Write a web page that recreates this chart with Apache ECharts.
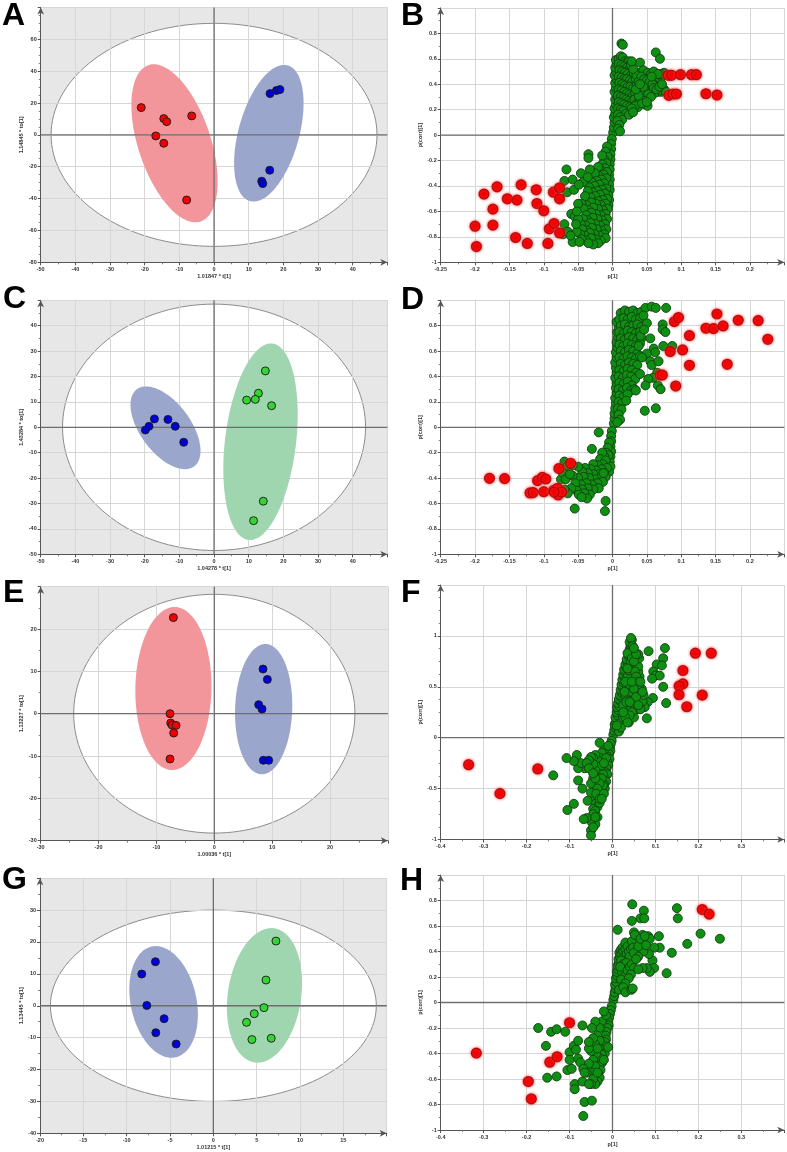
<!DOCTYPE html>
<html><head><meta charset="utf-8">
<script src="https://cdn.jsdelivr.net/npm/echarts@6/dist/echarts.min.js"></script>
<style>html,body{margin:0;padding:0;background:#fff}#c{width:787px;height:1152px}</style>
</head><body><div id="c"></div><script>
const FONT = '"Liberation Sans", Arial, sans-serif';

// ---------- Panel A (score plot) ----------
const A_red  = [[-21.0,17.1],[-14.5,10.2],[-13.65,8.3],[-6.44,11.9],[-16.8,-0.7],[-14.5,-5.3],[-7.9,-40.9]];
const A_blue = [[16.15,25.9],[18.0,27.8],[19.0,28.4],[16.06,-22.2],[13.75,-29.1],[14.04,-30.6]];
const A_ellRed  = [-11.4,-5.3,-6.0,49.6,10.9,0];
const A_ellBlue = [15.8,1.0,4.4,42.9,9.0,0];
const A_T2 = [47,70];
// ---------- Panel C (score plot) ----------
const C_blue  = [[-19.8,-1.07],[-18.75,0.4],[-17.2,3.3],[-13.3,3.1],[-11.2,0.4],[-8.75,-5.9]];
const C_green = [[14.8,22.2],[12.8,13.4],[9.4,10.7],[11.9,11.0],[16.6,8.5],[14.2,-29.1],[11.4,-36.75]];
const C_ellBlue  = [-14.0,-0.2,-5.6,16.3,8.4,0];
const C_ellGreen = [13.4,-5.7,3.0,38.7,10.3,0];
const C_T2 = [43.7,48.5];
// ---------- Panel E (score plot) ----------
const E_red  = [[-7.07,22.7],[-7.65,0.0],[-7.53,-2.2],[-7.3,-2.68],[-6.61,-2.76],[-7.02,-4.57],[-7.65,-10.7]];
const E_blue = [[8.42,10.55],[9.17,8.1],[7.67,2.13],[8.25,1.1],[8.48,-11.0],[9.4,-11.0]];
const E_ellRed  = [-7.07,5.95,0.2,19.25,6.57,0];
const E_ellBlue = [8.53,1.07,0.3,15.4,4.94,0];
const E_T2 = [24.3,28.2];
// ---------- Panel G (score plot) ----------
const G_blue  = [[-6.68,13.8],[-8.26,9.94],[-7.68,0.1],[-5.68,-4.06],[-6.64,-8.45],[-4.29,-12.0]];
const G_green = [[7.22,20.3],[6.07,8.06],[5.84,-0.6],[4.72,-2.5],[3.83,-5.2],[4.45,-10.6],[6.68,-10.2]];
const G_ellBlue  = [-5.74,1.2,-0.9,17.5,3.85,0];
const G_ellGreen = [5.9,3.25,0.8,21.1,4.26,0];
const G_T2 = [18.8,30.0];

// ---------- Panel B (loading plot) ----------
const B_red = [[-0.200,-0.716],[-0.198,-0.876],[-0.187,-0.464],[-0.174,-0.582],[-0.174,-0.708],[-0.168,-0.407],[-0.153,-0.501],[-0.141,-0.805],[-0.139,-0.511],[-0.133,-0.391],[-0.124,-0.852],[-0.111,-0.430],[-0.110,-0.538],[-0.100,-0.595],[-0.094,-0.852],[-0.092,-0.737],[-0.086,-0.449],[-0.085,-0.695],[-0.077,-0.414],[-0.077,-0.501],[-0.077,-0.769],[0.081,0.470],[0.086,0.470],[0.099,0.475],[0.115,0.475],[0.122,0.475],[0.082,0.312],[0.088,0.323],[0.093,0.323],[0.136,0.325],[0.152,0.315]];
const B_green = [
[0.001,0.02],[0.002,0.06],[0.003,0.1],[0.002,0.14],[0.004,0.17],[0.003,0.21],[0.005,0.24],[0.004,0.28],[0.006,0.31],[0.003,0.34],[0.005,0.37],[0.004,0.41],[0.006,0.44],[0.003,0.47],[0.005,0.5],[0.004,0.53],[0.006,0.56],[0.005,0.59],
[0.009,0.6],[0.012,0.62],[0.015,0.61],[0.018,0.58],[0.021,0.57],[0.024,0.58],
[0.009,0.56],[0.013,0.55],[0.017,0.54],[0.021,0.53],[0.025,0.52],
[0.01,0.51],[0.014,0.5],[0.018,0.49],[0.022,0.48],[0.027,0.47],[0.031,0.48],
[0.009,0.46],[0.013,0.45],[0.017,0.44],[0.021,0.44],[0.025,0.43],[0.029,0.42],[0.034,0.44],
[0.01,0.41],[0.014,0.4],[0.018,0.39],[0.022,0.38],[0.026,0.38],[0.03,0.37],[0.035,0.39],[0.038,0.36],
[0.009,0.36],[0.013,0.35],[0.017,0.34],[0.021,0.33],[0.025,0.32],[0.029,0.31],[0.033,0.33],
[0.008,0.31],[0.012,0.3],[0.016,0.29],[0.02,0.28],[0.024,0.27],[0.028,0.26],[0.032,0.28],[0.036,0.25],
[0.009,0.26],[0.013,0.25],[0.017,0.24],[0.021,0.23],[0.025,0.22],
[0.008,0.21],[0.012,0.2],[0.016,0.19],[0.02,0.17],
[0.008,0.16],[0.011,0.14],[0.014,0.12],[0.007,0.11],[0.01,0.08],[0.008,0.05],[0.011,0.03],
[0.04,0.57],[0.04,0.49],[0.045,0.51],[0.048,0.46],[0.051,0.49],[0.053,0.45],[0.056,0.48],[0.059,0.44],[0.062,0.47],[0.064,0.41],[0.066,0.45],[0.069,0.44],[0.072,0.46],[0.075,0.49],[0.075,0.36],[0.071,0.34],[0.066,0.34],[0.061,0.33],[0.057,0.35],[0.053,0.38],[0.049,0.4],[0.044,0.42],[0.042,0.34],[0.045,0.3],[0.048,0.24],[0.051,0.23],[0.04,0.28],[0.037,0.22],[0.041,0.31],[0.078,0.34],[0.063,0.65],[0.069,0.6],[0.013,0.72],[0.015,0.71],[0.062,0.39],[0.055,0.41],[0.047,0.35],[0.06,0.5],[0.033,0.23],[0.028,0.21],[0.024,0.16],[0.03,0.18],
[0.035,0.47],[0.038,0.42],[0.042,0.46],[0.046,0.44],[0.05,0.43],[0.054,0.42],[0.058,0.4],[0.06,0.37],[0.064,0.36],[0.068,0.38],[0.072,0.4],[0.07,0.48],[0.066,0.48],[0.057,0.46],[0.052,0.32],[0.056,0.3],[0.046,0.27],[0.043,0.25],[0.05,0.26],[0.038,0.31],[0.034,0.36],[0.045,0.38],[0.04,0.4],[0.027,0.55],[0.03,0.52],[0.028,0.58],
[-0.001,-0.03],[-0.002,-0.07],[-0.002,-0.11],[-0.003,-0.15],[-0.003,-0.19],[-0.004,-0.23],[-0.004,-0.27],[-0.005,-0.31],[-0.004,-0.35],[-0.005,-0.39],[-0.004,-0.43],[-0.006,-0.47],[-0.005,-0.51],[-0.006,-0.55],
[-0.008,-0.09],[-0.01,-0.13],[-0.007,-0.17],[-0.012,-0.19],[-0.009,-0.22],[-0.015,-0.23],[-0.011,-0.26],[-0.018,-0.27],[-0.008,-0.29],[-0.021,-0.25],[-0.015,-0.16],
[-0.013,-0.31],[-0.02,-0.32],[-0.026,-0.3],[-0.009,-0.34],[-0.016,-0.35],[-0.023,-0.36],[-0.03,-0.37],[-0.012,-0.38],[-0.019,-0.39],[-0.026,-0.4],[-0.034,-0.41],[-0.009,-0.42],[-0.015,-0.43],[-0.022,-0.44],[-0.029,-0.45],[-0.036,-0.44],[-0.011,-0.46],[-0.018,-0.47],[-0.025,-0.48],[-0.032,-0.49],[-0.04,-0.48],[-0.008,-0.5],[-0.014,-0.51],[-0.021,-0.52],
[-0.01,-0.54],[-0.017,-0.55],[-0.024,-0.54],[-0.031,-0.53],[-0.038,-0.55],[-0.045,-0.54],
[-0.007,-0.58],[-0.014,-0.59],[-0.021,-0.58],[-0.028,-0.57],[-0.035,-0.59],[-0.042,-0.58],
[-0.01,-0.62],[-0.017,-0.63],[-0.024,-0.62],[-0.031,-0.61],[-0.038,-0.63],
[-0.008,-0.66],[-0.015,-0.67],[-0.022,-0.66],[-0.029,-0.65],[-0.036,-0.67],[-0.043,-0.66],
[-0.011,-0.7],[-0.018,-0.71],[-0.025,-0.7],[-0.032,-0.69],[-0.039,-0.71],[-0.046,-0.7],
[-0.009,-0.74],[-0.016,-0.75],[-0.023,-0.74],[-0.03,-0.73],[-0.037,-0.75],[-0.044,-0.74],
[-0.012,-0.78],[-0.019,-0.79],[-0.026,-0.78],[-0.033,-0.77],[-0.04,-0.79],[-0.047,-0.78],
[-0.01,-0.81],[-0.017,-0.83],[-0.024,-0.82],[-0.031,-0.81],[-0.038,-0.83],[-0.045,-0.82],
[-0.021,-0.85],[-0.028,-0.86],[-0.035,-0.85],
[-0.067,-0.27],[-0.07,-0.36],[-0.066,-0.45],[-0.058,-0.35],[-0.056,-0.43],[-0.046,-0.3],[-0.043,-0.37],[-0.05,-0.54],[-0.06,-0.62],[-0.055,-0.64],[-0.07,-0.7],[-0.072,-0.78],[-0.065,-0.76],[-0.058,-0.84],[-0.052,-0.76],[-0.05,-0.66],[-0.052,-0.6],[-0.061,-0.79],[-0.033,-0.27],[-0.036,-0.33],[-0.049,-0.39],[-0.035,-0.15],[-0.035,-0.18],[-0.053,-0.7],[-0.048,-0.84]];

// ---------- Panel D (loading plot) ----------
const D_red = [[-0.179,-0.402],[-0.157,-0.404],[-0.120,-0.517],[-0.1155,-0.514],[-0.109,-0.42],[-0.102,-0.394],[-0.097,-0.407],[-0.100,-0.507],[-0.0855,-0.496],[-0.079,-0.533],[-0.080,-0.48],[-0.074,-0.509],[-0.085,-0.51],[-0.078,-0.325],[-0.061,-0.283],[0.0696,0.412],[0.0725,0.412],[0.090,0.832],[0.096,0.864],[0.152,0.892],[0.136,0.78],[0.147,0.777],[0.161,0.798],[0.183,0.843],[0.212,0.840],[0.226,0.693],[0.112,0.722],[0.102,0.609],[0.084,0.596],[0.112,0.488],[0.167,0.496],[0.092,0.325]];
const D_green = [
[0.002,0.03],[0.003,0.07],[0.003,0.11],[0.004,0.15],[0.005,0.19],[0.004,0.23],[0.006,0.27],[0.005,0.31],[0.006,0.35],[0.004,0.39],[0.006,0.43],[0.005,0.47],[0.004,0.51],[0.006,0.55],[0.005,0.59],[0.007,0.63],[0.006,0.67],[0.008,0.71],[0.007,0.75],[0.009,0.79],[0.006,0.83],
[0.012,0.9],[0.018,0.92],[0.024,0.91],[0.03,0.92],[0.036,0.9],[0.042,0.91],
[0.01,0.85],[0.016,0.86],[0.022,0.85],[0.028,0.87],[0.034,0.85],[0.04,0.86],
[0.012,0.8],[0.018,0.81],[0.024,0.79],[0.03,0.8],[0.036,0.81],[0.042,0.79],
[0.01,0.75],[0.016,0.74],[0.022,0.76],[0.028,0.75],[0.034,0.74],[0.04,0.75],
[0.012,0.7],[0.018,0.69],[0.024,0.71],[0.03,0.7],[0.036,0.69],[0.042,0.7],
[0.01,0.65],[0.016,0.64],[0.022,0.66],[0.028,0.65],[0.034,0.64],[0.04,0.66],
[0.012,0.6],[0.018,0.59],[0.024,0.61],[0.03,0.6],[0.036,0.58],
[0.01,0.55],[0.016,0.54],[0.022,0.56],[0.028,0.55],[0.034,0.54],[0.04,0.56],
[0.012,0.5],[0.018,0.49],[0.024,0.51],[0.03,0.5],[0.036,0.49],
[0.01,0.45],[0.016,0.44],[0.022,0.46],[0.028,0.45],[0.034,0.43],
[0.009,0.4],[0.015,0.39],[0.021,0.41],[0.027,0.4],[0.033,0.38],
[0.01,0.35],[0.016,0.34],[0.022,0.36],[0.028,0.33],
[0.009,0.3],[0.015,0.29],[0.021,0.31],[0.027,0.29],[0.032,0.3],
[0.01,0.25],[0.016,0.24],[0.022,0.26],
[0.009,0.2],[0.014,0.19],[0.02,0.21],
[0.008,0.15],[0.013,0.14],[0.009,0.1],[0.011,0.06],[0.007,0.04],
[0.048,0.94],[0.057,0.95],[0.063,0.94],[0.078,0.94],[0.05,0.82],[0.055,0.7],[0.073,0.81],[0.073,0.77],[0.077,0.75],[0.074,0.64],[0.087,0.64],[0.06,0.62],[0.062,0.59],[0.05,0.58],[0.055,0.52],[0.057,0.49],[0.067,0.52],[0.065,0.43],[0.059,0.39],[0.052,0.38],[0.048,0.33],[0.066,0.33],[0.07,0.3],[0.047,0.13],[0.063,0.15],[0.034,0.29],[0.04,0.42],[0.043,0.55],[0.038,0.64],[0.041,0.72],[0.045,0.88],[0.046,0.77],
[-0.001,-0.03],[-0.002,-0.07],[-0.002,-0.11],[-0.003,-0.15],[-0.002,-0.19],[-0.003,-0.23],[-0.004,-0.27],[-0.003,-0.31],[-0.005,-0.35],
[-0.005,-0.12],[-0.007,-0.16],[-0.009,-0.2],[-0.006,-0.22],[-0.012,-0.23],[-0.015,-0.2],[-0.018,-0.25],[-0.01,-0.26],[-0.014,-0.29],[-0.021,-0.3],[-0.028,-0.29],[-0.008,-0.32],[-0.016,-0.33],[-0.024,-0.34],[-0.032,-0.33],[-0.04,-0.32],[-0.012,-0.36],[-0.02,-0.37],[-0.028,-0.37],[-0.036,-0.36],[-0.044,-0.35],[-0.05,-0.31],[-0.01,-0.39],[-0.018,-0.4],[-0.026,-0.41],[-0.034,-0.4],[-0.042,-0.39],[-0.05,-0.4],[-0.058,-0.38],[-0.014,-0.43],[-0.022,-0.44],[-0.03,-0.45],[-0.038,-0.44],[-0.046,-0.45],[-0.054,-0.44],[-0.02,-0.48],[-0.028,-0.49],[-0.036,-0.48],[-0.044,-0.49],[-0.052,-0.5],[-0.06,-0.48],[-0.033,-0.53],[-0.041,-0.52],[-0.049,-0.53],[-0.065,-0.52],[-0.037,-0.56],[-0.045,-0.55],
[-0.02,-0.04],[-0.03,-0.17],[-0.055,-0.64],[-0.01,-0.58],[-0.011,-0.66],[-0.07,-0.27],[-0.075,-0.41],[-0.072,-0.36],[-0.068,-0.41],[-0.062,-0.37],[-0.07,-0.49],[-0.065,-0.3],[-0.058,-0.3],[-0.013,-0.36]];

// ---------- Panel F (loading plot) ----------
const F_red = [[-0.335,-0.265],[-0.262,-0.549],[-0.174,-0.307],[0.193,0.830],[0.230,0.830],[0.164,0.660],[0.164,0.529],[0.155,0.507],[0.155,0.422],[0.209,0.418],[0.173,0.304]];
const F_green = [
[0.002,0.03],[0.004,0.07],[0.006,0.1],[0.005,0.13],[0.008,0.15],[0.01,0.18],[0.007,0.2],[0.012,0.22],[0.01,0.25],[0.014,0.27],[0.011,0.3],[0.016,0.31],[0.013,0.34],[0.018,0.36],[0.015,0.38],[0.02,0.4],[0.017,0.42],[0.022,0.44],[0.019,0.47],[0.024,0.49],[0.021,0.52],[0.026,0.54],[0.023,0.57],[0.028,0.59],[0.025,0.62],[0.03,0.64],[0.027,0.67],[0.032,0.69],[0.03,0.72],[0.035,0.74],[0.033,0.77],[0.038,0.8],[0.036,0.83],[0.04,0.87],[0.042,0.91],[0.04,0.94],[0.045,0.96],[0.043,0.98],[0.047,0.9],[0.05,0.83],
[0.02,0.15],[0.025,0.2],[0.03,0.25],[0.028,0.32],[0.033,0.3],[0.035,0.38],[0.03,0.42],[0.038,0.45],[0.034,0.5],[0.04,0.52],[0.037,0.57],[0.042,0.6],[0.045,0.64],[0.04,0.68],[0.048,0.7],[0.05,0.55],[0.045,0.45],[0.048,0.35],[0.042,0.3],[0.038,0.15],[0.05,0.2],[0.052,0.29],[0.058,0.44],[0.055,0.34],[0.06,0.28],[0.065,0.38],[0.068,0.48],[0.063,0.6],[0.06,0.65],[0.055,0.72],[0.06,0.7],[0.062,0.78],[0.06,0.82],[0.045,0.83],[0.035,0.83],[0.084,0.85],[0.122,0.88],[0.118,0.78],[0.103,0.72],[0.115,0.71],[0.095,0.65],[0.1,0.61],[0.11,0.61],[0.092,0.58],[0.118,0.5],[0.125,0.34],[0.094,0.39],[0.082,0.35],[0.075,0.3],[0.065,0.28],[0.08,0.19],[0.07,0.36],[0.072,0.42],[0.015,0.06],[0.02,0.1],[0.01,0.12],[0.025,0.32],
[0.035,0.6],[0.038,0.66],[0.042,0.75],[0.045,0.78],[0.05,0.75],[0.052,0.65],[0.055,0.6],[0.058,0.55],[0.062,0.52],[0.05,0.48],[0.055,0.4],[0.06,0.32],[0.045,0.25],[0.04,0.22],[0.03,0.2],[0.035,0.15],[0.025,0.25],[0.032,0.35],[0.028,0.45],[0.03,0.55],[0.035,0.68],[0.04,0.35],[0.045,0.55],[0.065,0.55],[0.07,0.45],[0.055,0.82],[0.05,0.88],
[-0.002,-0.03],[-0.004,-0.06],[-0.006,-0.1],[-0.005,-0.13],[-0.008,-0.16],[-0.01,-0.19],[-0.007,-0.21],[-0.012,-0.24],[-0.01,-0.27],[-0.014,-0.3],[-0.016,-0.34],[-0.012,-0.36],[-0.018,-0.4],[-0.015,-0.43],[-0.02,-0.46],[-0.018,-0.5],
[-0.02,-0.12],[-0.025,-0.15],[-0.03,-0.05],[-0.028,-0.2],[-0.035,-0.22],[-0.04,-0.17],[-0.045,-0.2],[-0.035,-0.3],[-0.03,-0.33],[-0.025,-0.27],[-0.04,-0.32],[-0.045,-0.26],[-0.05,-0.19],[-0.055,-0.22],[-0.022,-0.36],[-0.03,-0.4],[-0.035,-0.45],[-0.028,-0.48],[-0.04,-0.46],[-0.045,-0.4],[-0.025,-0.52],[-0.022,-0.47],[-0.03,-0.55],[-0.038,-0.6],[-0.045,-0.6],[-0.05,-0.54],[-0.04,-0.65],[-0.035,-0.68],[-0.03,-0.64],[-0.045,-0.7],[-0.04,-0.72],[-0.035,-0.78],[-0.045,-0.75],[-0.04,-0.85],[-0.05,-0.82],[-0.06,-0.79],[-0.067,-0.8],[-0.05,-0.91],[-0.05,-0.96],[-0.07,-0.5],[-0.08,-0.42],[-0.065,-0.3],[-0.08,-0.3],[-0.073,-0.25],[-0.083,-0.17],[-0.09,-0.23],[-0.107,-0.2],[-0.138,-0.37],[-0.09,-0.65],[-0.105,-0.71],[-0.06,-0.25],[-0.055,-0.3],[-0.05,-0.45],[-0.058,-0.62],
[-0.01,-0.08],[-0.015,-0.2],[-0.02,-0.25],[-0.025,-0.4],[-0.03,-0.45],[-0.035,-0.5],[-0.038,-0.55],[-0.03,-0.6],[-0.04,-0.4],[-0.045,-0.35],[-0.02,-0.55],[-0.025,-0.6],[-0.04,-0.78],[-0.045,-0.88]];

// ---------- Panel H (loading plot) ----------
const H_red = [[-0.317,-0.397],[-0.196,-0.620],[-0.189,-0.756],[-0.146,-0.468],[-0.129,-0.426],[-0.100,-0.159],[0.209,0.729],[0.225,0.693]];
const H_green = [
[0.002,0.02],[0.004,0.05],[0.005,0.08],[0.007,0.11],[0.006,0.14],[0.009,0.16],[0.008,0.19],[0.011,0.21],[0.01,0.24],[0.013,0.26],[0.012,0.29],[0.015,0.31],[0.014,0.34],[0.017,0.36],[0.016,0.39],[0.019,0.41],[0.021,0.38],[0.023,0.43],[0.025,0.4],[0.027,0.36],[0.03,0.42],[0.03,0.47],[0.035,0.44],[0.033,0.38],[0.038,0.4],[0.036,0.34],[0.04,0.36],[0.043,0.42],[0.045,0.48],[0.048,0.43],[0.05,0.39],[0.02,0.33],[0.025,0.3],[0.028,0.27],[0.032,0.31],[0.022,0.24],[0.018,0.28],[0.027,0.2],[0.02,0.18],[0.035,0.25],[0.04,0.28],[0.045,0.3],[0.05,0.27],[0.043,0.22],[0.038,0.19],[0.03,0.15],[0.015,0.1],[0.025,0.12],[0.03,0.08],
[0.046,0.77],[0.073,0.72],[0.065,0.66],[0.074,0.66],[0.045,0.64],[0.15,0.74],[0.152,0.66],[0.205,0.54],[0.25,0.5],[0.174,0.46],[0.138,0.39],[0.126,0.23],[0.108,0.52],[0.11,0.43],[0.097,0.43],[0.093,0.33],[0.097,0.27],[0.087,0.24],[0.085,0.38],[0.083,0.52],[0.087,0.5],[0.07,0.53],[0.05,0.55],[0.052,0.53],[0.012,0.57],[0.07,0.47],[0.072,0.4],[0.06,0.36],[0.044,0.1],[0.047,0.11],[0.06,0.44],[0.065,0.5],[0.078,0.45],[0.08,0.27],[0.07,0.27],[0.055,0.34],[0.06,0.26],[0.075,0.52],
[-0.002,-0.03],[-0.004,-0.06],[-0.006,-0.09],[-0.008,-0.12],[-0.01,-0.15],[-0.009,-0.18],[-0.012,-0.2],[-0.014,-0.23],[-0.016,-0.26],[-0.015,-0.29],[-0.018,-0.31],[-0.02,-0.34],[-0.022,-0.37],[-0.018,-0.4],[-0.025,-0.41],[-0.028,-0.44],[-0.024,-0.47],[-0.03,-0.5],[-0.028,-0.53],[-0.033,-0.56],[-0.03,-0.59],[-0.035,-0.62],[-0.04,-0.64],
[-0.025,-0.15],[-0.03,-0.2],[-0.035,-0.26],[-0.03,-0.3],[-0.04,-0.33],[-0.045,-0.28],[-0.038,-0.4],[-0.045,-0.45],[-0.04,-0.5],[-0.048,-0.55],[-0.045,-0.6],[-0.05,-0.64],[-0.035,-0.55],[-0.02,-0.45],[-0.01,-0.35],[-0.015,-0.1],[-0.02,-0.07],[-0.05,-0.38],[-0.055,-0.48],[-0.06,-0.55],[-0.035,-0.36],[-0.173,-0.2],[-0.143,-0.23],[-0.13,-0.21],[-0.11,-0.23],[-0.155,-0.34],[-0.152,-0.59],[-0.13,-0.58],[-0.105,-0.53],[-0.1,-0.39],[-0.1,-0.45],[-0.095,-0.52],[-0.09,-0.34],[-0.085,-0.37],[-0.088,-0.64],[-0.088,-0.68],[-0.08,-0.3],[-0.08,-0.44],[-0.075,-0.47],[-0.07,-0.62],[-0.068,-0.52],[-0.068,-0.89],[-0.065,-0.78],[-0.065,-0.55],[-0.07,-0.18],[-0.055,-0.36],[-0.055,-0.64],[-0.048,-0.77],[-0.055,-0.31],[-0.04,-0.15],[-0.048,-0.2]];

// ---------- axis titles ----------
const xNames = ['1.01847 * t[1]','p[1]','1.04278 * t[1]','p[1]','1.00036 * t[1]','p[1]','1.01215 * t[1]','p[1]'];
const yNames = ['1.14845 * to[1]','p(corr)[1]','1.43284 * to[1]','p(corr)[1]','1.13227 * to[1]','p(corr)[1]','1.13445 * to[1]','p(corr)[1]'];
const letters = ['A','B','C','D','E','F','G','H'];

// ---------- styling / layout ----------
const RED_FILL='#f2969b', BLUE_FILL='#9ba6cd', GREEN_FILL='#9fd6af';
const panels = [
 {rect:[40.7,7.4,346.7,254.9], x:[-50,50,10], y:[-80,80,20], xm:2, ym:4, score:true, T2:A_T2,
  ells:[[A_ellRed,RED_FILL],[A_ellBlue,BLUE_FILL]], pts:[[A_red,'#f00000'],[A_blue,'#0000d8']], letter:[2,16]},
 {rect:[440.7,7.9,343.6,254.4], x:[-0.25,0.25,0.05], y:[-1,1,0.2], xm:2, ym:2, score:false,
  green:B_green, red:B_red, letter:[401,16]},
 {rect:[40.7,300.3,346.7,254], x:[-50,50,10], y:[-50,50,10], xm:2, ym:2, score:true, T2:C_T2,
  ells:[[C_ellBlue,BLUE_FILL],[C_ellGreen,GREEN_FILL]], pts:[[C_blue,'#0000d8'],[C_green,'#33d433']], letter:[3,299]},
 {rect:[440.7,300.3,343.6,254], x:[-0.25,0.25,0.05], y:[-1,1,0.2], xm:2, ym:2, score:false,
  green:D_green, red:D_red, letter:[401,300]},
 {rect:[40.7,586.7,347.2,254], x:[-30,30,10], y:[-30,30,10], xm:2, ym:2, score:true, T2:E_T2,
  ells:[[E_ellRed,RED_FILL],[E_ellBlue,BLUE_FILL]], pts:[[E_red,'#f00000'],[E_blue,'#0000d8']], letter:[3,593]},
 {rect:[440.7,585,343.6,254.5], x:[-0.4,0.4,0.1], y:[-1,1.5,0.5], xm:2, ym:4, score:false,
  green:F_green, red:F_red, letter:[401,593]},
 {rect:[40,878.2,346.7,255.1], x:[-20,20,5], y:[-40,40,10], xm:2, ym:2, score:true, T2:G_T2,
  ells:[[G_ellBlue,BLUE_FILL],[G_ellGreen,GREEN_FILL]], pts:[[G_blue,'#0000d8'],[G_green,'#33d433']], letter:[2,880]},
 {rect:[440.7,875,343.6,255], x:[-0.4,0.4,0.1], y:[-1,1,0.2], xm:2, ym:2, score:false,
  green:H_green, red:H_red, letter:[400,881]}
];

const grids=[], xAxes=[], yAxes=[], series=[], graphics=[];
const labelStyle = {fontSize:5.5, fontWeight:'bold', color:'#333', fontFamily:FONT};

function ellPoints(api, p){
  const pts=[];
  for(let k=0;k<=144;k++){
    const t=k/144*2*Math.PI, c=Math.cos(t), s=Math.sin(t);
    pts.push(api.coord([p[0]+p[2]*c+p[4]*s, p[1]+p[3]*c+p[5]*s]));
  }
  return pts;
}

panels.forEach((P,i)=>{
  grids.push({left:P.rect[0], top:P.rect[1], width:P.rect[2], height:P.rect[3],
    show:P.score, backgroundColor:'#e7e7e7', borderWidth:0, z:-5});
  const axisCommon = (ext, minorSplit, name, isX) => ({
    type:'value', gridIndex:i, min:ext[0], max:ext[1], interval:ext[2],
    name:name, nameLocation:'middle', nameGap: isX ? 11 : (P.score ? 13 : 17),
    nameTextStyle:{fontSize:5.5, fontWeight:'bold', color:'#333', fontFamily:FONT},
    axisLine:{show:true, onZero:false, symbol:['none','arrow'], symbolSize:[5,7], lineStyle:{color:'#555', width:1}},
    axisTick:{show:true, inside:false, length:3, lineStyle:{color:'#555', width:1}},
    minorTick:{show:true, splitNumber:minorSplit, length:2, lineStyle:{color:'#666', width:0.8}},
    axisLabel:Object.assign({showMaxLabel:false, margin:4}, labelStyle),
    splitLine:{show:true, lineStyle:{color:'#d6d6d6', width:1}},
    z:0
  });
  xAxes.push(axisCommon(P.x, P.xm, xNames[i], true));
  yAxes.push(axisCommon(P.y, P.ym, yNames[i], false));

  if(P.score){
    const T2 = P.T2;
    series.push({type:'custom', xAxisIndex:i, yAxisIndex:i, z:-2, silent:true, animation:false,
      data:[[0,0]],
      renderItem:(params, api)=>({type:'polygon', shape:{points:ellPoints(api,[0,0,0,T2[1],T2[0],0])},
        style:{fill:'#ffffff', stroke:'#8c8c8c', lineWidth:1}})});
    const ells = P.ells;
    series.push({type:'custom', xAxisIndex:i, yAxisIndex:i, z:1, silent:true, animation:false,
      data:ells.map((e,k)=>[e[0][0], e[0][1], k]),
      renderItem:(params, api)=>{
        const e = ells[params.dataIndex];
        return {type:'polygon', shape:{points:ellPoints(api,e[0])}, style:{fill:e[1], stroke:null}};
      }});
  }
  const xe=P.x, ye=P.y;
  series.push({type:'custom', xAxisIndex:i, yAxisIndex:i, z:2, silent:true, animation:false,
    data:[[0,0]],
    renderItem:(params, api)=>{
      const a=api.coord([xe[0],0]), b=api.coord([xe[1],0]), c=api.coord([0,ye[0]]), d=api.coord([0,ye[1]]);
      return {type:'group', children:[
        {type:'line', shape:{x1:a[0],y1:a[1],x2:b[0],y2:b[1]}, style:{stroke:'#6e6e6e', lineWidth:1.3}},
        {type:'line', shape:{x1:c[0],y1:c[1],x2:d[0],y2:d[1]}, style:{stroke:'#6e6e6e', lineWidth:1.3}}
      ]};
    }});
  if(P.score){
    P.pts.forEach(pp=>{
      series.push({type:'scatter', xAxisIndex:i, yAxisIndex:i, z:4, silent:true, animation:false,
        data:pp[0], symbolSize:8,
        itemStyle:{color:pp[1], borderColor:'#1a1a1a', borderWidth:0.9, opacity:1}});
    });
  } else {
    series.push({type:'scatter', xAxisIndex:i, yAxisIndex:i, z:4, silent:true, animation:false,
      data:P.green, symbolSize:9,
      itemStyle:{color:'#0f8f12', borderColor:'#123d12', borderWidth:0.9, opacity:1}});
    series.push({type:'scatter', xAxisIndex:i, yAxisIndex:i, z:5, silent:true, animation:false,
      data:P.red, symbolSize:10,
      itemStyle:{color:'#f20000', borderColor:'rgba(150,0,0,0.75)', borderWidth:1.2, opacity:1,
        shadowBlur:3, shadowColor:'rgba(255,60,60,0.9)'}});
  }
  graphics.push({type:'text', left:P.letter[0], top:P.letter[1]-16,
    style:{text:letters[i], font:'bold 32px ' + FONT, fill:'#000'}, z:10});
});

const chart = echarts.init(document.getElementById('c'), null, {renderer:'canvas'});
chart.setOption({
  animation:false,
  backgroundColor:'#ffffff',
  grid:grids, xAxis:xAxes, yAxis:yAxes, series:series, graphic:graphics
});
</script></body></html>
